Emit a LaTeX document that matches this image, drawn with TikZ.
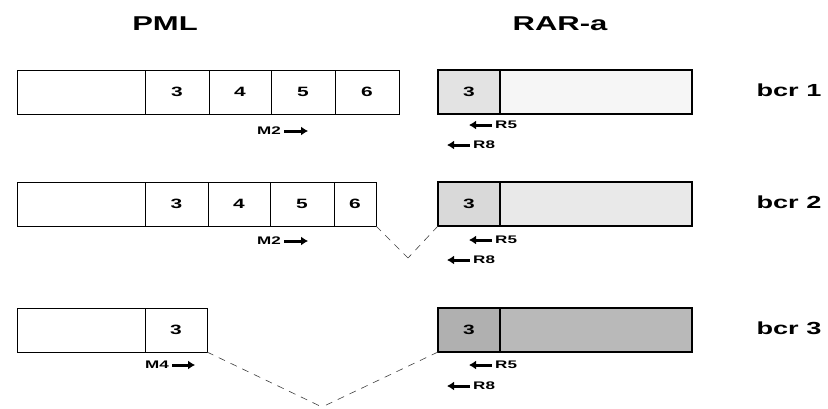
\documentclass[tikz,border=0pt]{standalone}
\usepackage{fontspec}
\newfontfamily\figfont{Liberation Sans}[FakeStretch=1.55]
\usepackage{tikz}
\usetikzlibrary{arrows.meta, positioning}

\begin{document}
\begin{tikzpicture}[
    x=1pt, y=-1pt,
    cell/.style={rectangle, draw, line width=0.8pt, minimum height=44pt,
                 inner sep=0pt, outer sep=0pt,
                 font=\figfont\bfseries\fontsize{13.5}{15}\selectfont},
    rarcell/.style={cell, line width=1.7pt},
    title/.style={font=\figfont\bfseries\fontsize{20}{23}\selectfont},
    bcr/.style={font=\figfont\bfseries\fontsize{17.5}{20}\selectfont, anchor=west},
    lbl/.style={font=\figfont\bfseries\fontsize{11}{13}\selectfont, inner sep=0pt},
    arr/.style={-{Latex[length=7pt, width=9pt]}, line width=3pt},
    cut/.style={dash pattern=on 7pt off 6pt, line width=0.6pt, black!75},
]
\useasboundingbox (0,0) rectangle (828,408);

% Titles
\node[title] (pml) at (165,24) {PML};
\node[title] (rar) at (560,24) {RAR-a};

% Row 1 (bcr 1)
\node[cell, minimum width=128pt, anchor=north west] at (17,70) (p1a) {};
\node[cell, minimum width=64pt, right=0pt of p1a] (p1b) {3};
\node[cell, minimum width=62pt, right=0pt of p1b] (p1c) {4};
\node[cell, minimum width=64pt, right=0pt of p1c] (p1d) {5};
\node[cell, minimum width=64pt, right=0pt of p1d] (p1e) {6};
\node[rarcell, fill=gray!22, minimum width=62pt, anchor=north west] at (438,70) (r1a) {3};
\node[rarcell, fill=gray!7, minimum width=192pt, right=0pt of r1a] (r1b) {};
\node[bcr] at (753,90) (bcr1) {bcr 1};

% Row 2 (bcr 2)
\node[cell, minimum width=128pt, anchor=north west] at (17,182) (p2a) {};
\node[cell, minimum width=63pt, right=0pt of p2a] (p2b) {3};
\node[cell, minimum width=62pt, right=0pt of p2b] (p2c) {4};
\node[cell, minimum width=64pt, right=0pt of p2c] (p2d) {5};
\node[cell, minimum width=42pt, right=0pt of p2d] (p2e) {6};
\node[rarcell, fill=gray!30, minimum width=62pt, anchor=north west] at (438,182) (r2a) {3};
\node[rarcell, fill=gray!17, minimum width=192pt, right=0pt of r2a] (r2b) {};
\node[bcr] at (753,202) (bcr2) {bcr 2};

% Row 3 (bcr 3)
\node[cell, minimum width=128pt, anchor=north west] at (17,308) (p3a) {};
\node[cell, minimum width=62pt, right=0pt of p3a] (p3b) {3};
\node[rarcell, fill=gray!62, minimum width=62pt, anchor=north west] at (438,308) (r3a) {3};
\node[rarcell, fill=gray!55, minimum width=192pt, right=0pt of r3a] (r3b) {};
\node[bcr] at (753,328) (bcr3) {bcr 3};

% Primer labels, PML side
\node[lbl, anchor=west] at (257,131) (m2a) {M2};
\coordinate[right=27pt of m2a.east] (m2a end);
\draw[arr] ([xshift=3pt]m2a.east) -- (m2a end);
\node[lbl, anchor=west] at (257,241) (m2b) {M2};
\coordinate[right=27pt of m2b.east] (m2b end);
\draw[arr] ([xshift=3pt]m2b.east) -- (m2b end);
\node[lbl, anchor=west] at (145,365) (m4) {M4};
\coordinate[right=26pt of m4.east] (m4 end);
\draw[arr] ([xshift=3pt]m4.east) -- (m4 end);

% Primer labels, RAR side
\foreach \row/\ya/\yb in {1/125/145, 2/240/260, 3/365/386}{
  \node[lbl, anchor=west] at (495,\ya) (r5\row) {R5};
  \coordinate[left=26pt of r5\row.west] (r5\row end);
  \draw[arr] ([xshift=-3pt]r5\row.west) -- (r5\row end);
  \node[lbl, anchor=west] at (473,\yb) (r8\row) {R8};
  \coordinate[left=26pt of r8\row.west] (r8\row end);
  \draw[arr] ([xshift=-3pt]r8\row.west) -- (r8\row end);
}

% Breakpoint fusions
\coordinate (v2) at (408,258);
\draw[cut] (p2e.south east) -- (v2);
\draw[cut] (r2a.south west) -- (v2);
\coordinate (v3) at (322,407);
\draw[cut] (p3b.south east) -- (v3);
\draw[cut] (r3a.south west) -- (v3);

\end{tikzpicture}
\end{document}
